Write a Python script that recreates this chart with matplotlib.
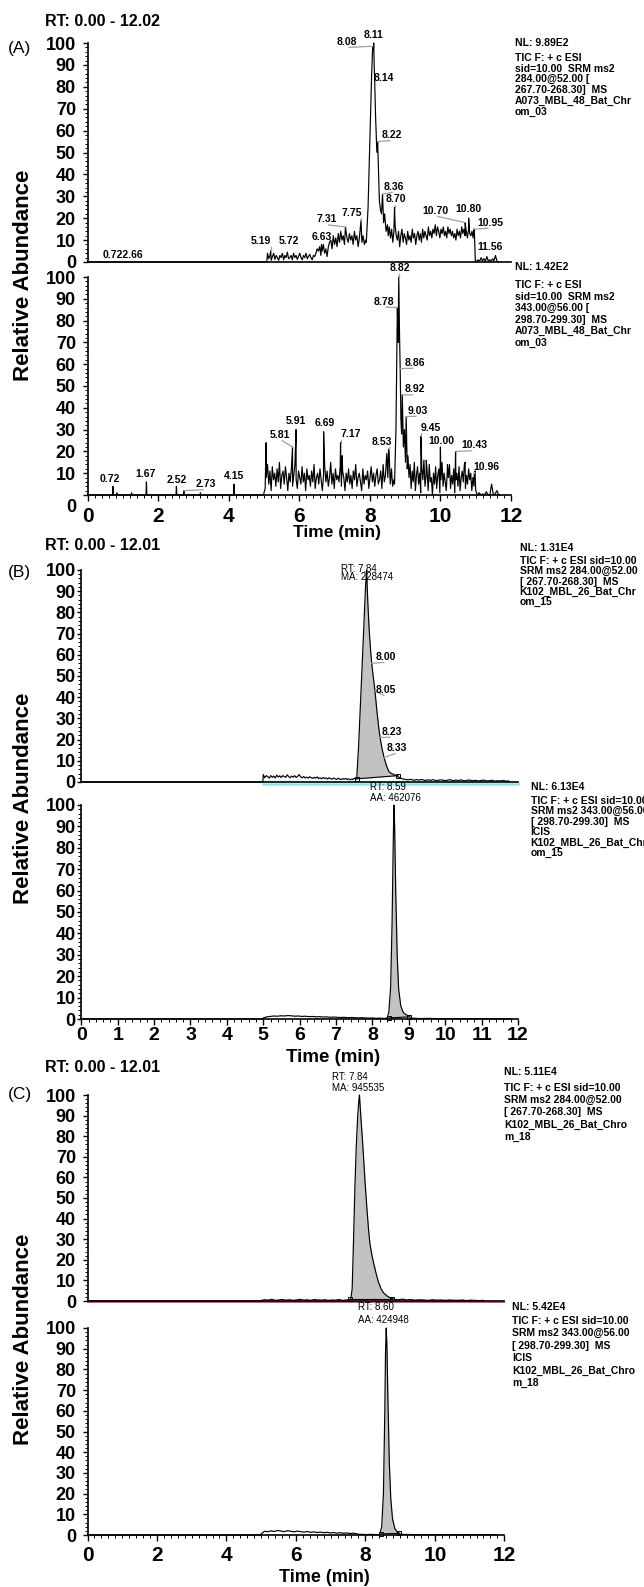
import numpy as np
import matplotlib
matplotlib.use("Agg")
import matplotlib.pyplot as plt
from matplotlib.ticker import MultipleLocator

plt.rcParams['font.family'] = ['Liberation Sans', 'DejaVu Sans']

# ===================== DATA =====================
# ---- Panel A, upper trace (284 -> 268) ----
a1_base_t = [0.0, 5.08]
a1_base_v = [0, 0]
a1_pre_range = (5.10, 7.88)
a1_pre_v = [4, 1.5, 3, 0.8, 2.5, 4, 1.2, 3, 2, 0.8,
            3, 2, 4, 1, 3, 2, 4.5, 1.5, 2, 3,
            1, 4, 2, 3, 1.2, 2.5, 4, 2, 1, 3,
            2, 4, 1.5, 2.5, 3.5, 2, 1, 3, 2.5, 4,
            6, 5, 7, 3, 5, 8, 4, 6, 2.5, 7,
            9, 10, 6, 12, 8, 11, 7, 13, 9, 14,
            10, 12, 8, 15, 11, 9, 13, 10, 12, 8,
            14, 10, 12, 7, 11, 17, 9, 12, 8, 10]
a1_peak_t = [7.90, 7.95, 8.00, 8.05, 8.08, 8.10, 8.11, 8.12, 8.14, 8.16, 8.19,
             8.21, 8.22, 8.24, 8.27, 8.30, 8.33, 8.36, 8.39, 8.42, 8.46, 8.50]
a1_peak_v = [9, 25, 55, 85, 98, 97, 100, 92, 81, 68, 54,
             50, 55, 45, 28, 24, 22, 31, 18, 22, 14, 17]
a1_post_range = (8.52, 10.96)
a1_post_v = [12, 16, 11, 15, 9, 14, 17, 12, 10, 14,
             7, 12, 15, 9, 13, 11, 8, 14, 10, 12,
             9, 15, 11, 13, 8, 12, 14, 10, 13, 9,
             15, 11, 14, 12, 10, 16, 12, 14, 11, 15,
             13, 17, 12, 16, 14, 11, 15, 13, 16, 12,
             14, 11, 16, 13, 15, 12, 14, 11, 13, 10,
             15, 12, 14, 11, 16, 13, 15, 12, 14, 11,
             15, 13, 12, 14, 11, 15]
a1_tail_range = (10.99, 11.64)
a1_tail_v = [0, 0.5, 1, 0.3, 2, 0.5, 1.5, 0.3, 2.5, 0.5, 1, 0.3, 1.5, 0.5, 3, 0.5, 0]
a1_spikes = [(5.19, 5), (6.63, 8), (7.31, 16), (7.75, 19), (8.70, 25),
             (10.70, 18), (10.80, 20), (10.95, 15), (11.56, 3)]

# ---- Panel A, lower trace (343 -> 299) ----
a2_base_t = [0.0, 4.99]
a2_base_v = [0, 0]
a2_isolated = [(0.72, 4), (0.83, 1), (1.25, 1), (1.67, 6), (2.52, 4),
               (2.73, 2), (3.20, 1), (4.15, 5)]
a2_noise1_range = (5.00, 8.68)
a2_noise1_v = [1, 3, 8, 14, 5, 11, 2, 13, 7, 10, 4, 12, 6, 15, 3, 9, 11, 5, 13, 8,
               2, 10, 6, 12, 4, 9, 14, 7, 3, 11, 8, 5, 13, 6, 10, 2, 12, 7, 9, 4,
               11, 6, 14, 3, 8, 10, 5, 12, 7, 2, 9, 13, 6, 11, 4, 8, 15, 5, 10, 3,
               12, 7, 9, 6, 13, 4, 11, 8, 2, 10, 6, 12, 5, 9, 3, 11, 7, 14, 4, 8,
               10, 6, 2, 12, 5, 9, 7, 11, 3, 8, 13, 6, 10, 4, 9, 12, 5, 7, 11, 3,
               14, 6, 9, 18, 8, 20, 5, 12, 4, 7]
a2_noise1_spikes = [(5.06, 24), (5.81, 22), (5.91, 30), (6.69, 29), (7.17, 24),
                    (7.22, 18), (8.48, 19), (8.53, 21)]
a2_peak_t = [8.70, 8.74, 8.76, 8.78, 8.80, 8.82, 8.84, 8.86, 8.88, 8.90, 8.92,
             8.95, 8.98, 9.01, 9.03, 9.06]
a2_peak_v = [5, 30, 60, 86, 70, 100, 75, 58, 35, 28, 46, 22, 30, 15, 36, 12]
a2_noise2_range = (9.08, 10.98)
a2_noise2_v = [18, 8, 14, 3, 11, 6, 15, 2, 9, 13, 5, 10, 1, 12, 7, 16, 4, 9, 11, 2,
               14, 6, 8, 0, 10, 5, 13, 3, 9, 12, 1, 7, 15, 4, 10, 6, 2, 11, 8, 14,
               3, 9, 5, 12, 1, 7, 10, 4, 13, 2, 8, 11, 6, 14, 3, 9, 5, 12, 7, 10,
               2, 8, 4, 11]
a2_noise2_spikes = [(9.45, 27), (9.60, 16), (10.00, 22), (10.20, 14), (10.43, 20),
                    (10.70, 15), (10.96, 10)]
a2_tail_range = (11.00, 11.70)
a2_tail_v = [2, 0, 1, 0, 0.5, 0, 1.5, 0, 0, 5, 0, 0.5, 2, 0, 0]

# ---- Panel B, upper trace ----
b1_base_t = [0.0, 4.99]
b1_base_v = [0, 0]
b1_pre_range = (5.00, 7.55)
b1_pre_v = [3.5, 2, 3, 2.5, 1.8, 3, 2.2, 2.8, 1.9, 3.2, 2.4, 2.9, 2.1, 3, 2.6, 2.2,
            3.4, 2.5, 2, 2.8, 2.3, 3, 2.1, 2.7, 3.5, 2.4, 2, 2.6, 1.9, 2.3, 1.8, 2.5,
            2, 1.7, 2.2, 1.8, 2.4, 1.6, 2, 1.5, 2.1, 1.7, 1.9, 1.4, 2, 1.6, 1.3, 1.9,
            1.5, 1.2, 1.8, 1.4, 1.1, 1.6, 1.3, 1.7, 1.2, 1.5, 1.0, 1.4, 1.2, 1.8, 1.3]
b1_peak_t = [7.57, 7.62, 7.67, 7.72, 7.77, 7.81, 7.84, 7.87, 7.91, 7.95, 7.98, 8.02,
             8.07, 8.12, 8.17, 8.21, 8.26, 8.32, 8.38, 8.45, 8.52, 8.60, 8.70]
b1_peak_v = [2, 17, 36, 56, 76, 92, 100, 86, 72, 62, 56, 50,
             43, 34, 26, 21, 16, 11.5, 8, 5, 4, 3.5, 2.5]
b1_post_range = (8.75, 11.75)
b1_post_v = [2, 1.5, 1.2, 1, 1.3, 0.8, 1.1, 0.9, 1.2, 0.7, 1, 0.8, 1.1, 0.6, 0.9, 1,
             0.7, 0.8, 1.1, 0.6, 0.9, 0.7, 1, 0.5, 0.8, 0.9, 0.6, 0.8, 0.5, 0.7, 0.9,
             0.5, 0.6, 0.8, 0.4, 0.6, 0.5, 0.7, 0.4, 0.5]
b1_area = (7.57, 8.70, 1.5, 3.0)

# ---- Panel B, lower trace ----
b2_base_t = [0.0, 4.99]
b2_base_v = [0, 0]
b2_hump_range = (5.00, 8.38)
b2_hump_v = [0.5, 1.0, 1.2, 1.4, 1.3, 1.5, 1.4, 1.6, 1.5, 1.3, 1.4, 1.2, 1.3, 1.1,
             1.2, 1.0, 1.1, 0.9, 1.0, 0.8, 0.9, 0.8, 0.7, 0.8, 0.6, 0.7, 0.6, 0.5,
             0.6, 0.5, 0.4, 0.5, 0.3, 0.4, 0.3, 0.3]
b2_peak_t = [8.40, 8.45, 8.50, 8.54, 8.57, 8.59, 8.61, 8.64, 8.68, 8.72, 8.78,
             8.85, 8.92, 9.00, 9.05]
b2_peak_v = [0.5, 3, 15, 45, 80, 100, 90, 60, 30, 14, 6, 3, 2, 1.5, 0.5]
b2_post_range = (9.08, 11.80)
b2_post_v = [0.4, 0.2, 0.3, 0.1, 0.2, 0.1, 0.15, 0.1, 0.2, 0.05, 0.1, 0.05]
b2_area = (8.45, 9.00, 0.5, 1.0)

# ---- Panel C, upper trace ----
c1_base_t = [0.0, 4.99]
c1_base_v = [0, 0]
c1_pre_range = (5.00, 7.55)
c1_pre_v = [0.3, 0.6, 0.4, 0.8, 0.3, 0.5, 0.7, 0.4, 0.6, 0.3, 0.5, 0.8, 0.4,
            0.6, 0.3, 0.7, 0.5, 0.4, 0.6, 0.3, 0.5, 0.4, 0.7, 0.3, 0.5, 0.6]
c1_peak_t = [7.58, 7.62, 7.66, 7.70, 7.74, 7.78, 7.81, 7.83, 7.86, 7.90, 7.94,
             7.99, 8.04, 8.09, 8.13, 8.18, 8.23, 8.30, 8.37, 8.45, 8.52, 8.62,
             8.72, 8.80]
c1_peak_v = [1, 6, 30, 56, 76, 90, 97, 100, 92, 82, 72, 58, 46, 35, 28, 23, 19,
             14, 9.5, 6, 4, 2.5, 1.5, 1]
c1_post_range = (8.82, 11.40)
c1_post_v = [0.8, 0.6, 0.9, 0.5, 0.7, 0.4, 0.6, 0.5, 0.3, 0.6, 0.4, 0.5, 0.3,
             0.5, 0.4, 0.3, 0.5, 0.2, 0.4, 0.3, 0.2, 0.3]
c1_area = (7.57, 8.77, 0.8, 0.8)

# ---- Panel C, lower trace ----
c2_base_t = [0.0, 4.99]
c2_base_v = [0, 0]
c2_hump_range = (5.00, 7.75)
c2_hump_v = [0.5, 1.8, 1.6, 2.0, 1.7, 2.2, 1.9, 1.6, 2.1, 1.8, 1.5, 1.9, 1.6,
             1.4, 1.7, 1.3, 1.5, 1.2, 1.4, 1.1, 1.3, 1.0, 1.2, 0.9, 1.1, 0.8,
             1.0, 0.7, 0.9, 0.6]
c2_gap_range = (7.78, 8.40)
c2_gap_v = [0.4, 0.3, 0.2, 0.3, 0.2, 0.1]
c2_peak_t = [8.42, 8.47, 8.52, 8.56, 8.58, 8.60, 8.62, 8.65, 8.69, 8.73, 8.78,
             8.85, 8.92, 9.00]
c2_peak_v = [0.5, 4, 20, 60, 88, 100, 92, 65, 35, 18, 8, 3, 1.5, 0.5]
c2_post_range = (9.02, 11.80)
c2_post_v = [0.3, 0.2, 0.1, 0.15, 0.1, 0.05, 0.1, 0.05]
c2_area = (8.45, 8.97, 0.5, 0.8)

# ---- text content ----
y_ticks = list(range(0, 101, 10))
y_ticklabels = [str(v) for v in y_ticks]
xticks_a = [0, 2, 4, 6, 8, 10, 12]
xticks_b = list(range(0, 13))
xticks_c = [0, 2, 4, 6, 8, 10, 12]

info_a1 = ["NL: 9.89E2", "TIC F: + c ESI", "sid=10.00  SRM ms2", "284.00@52.00 [",
           "267.70-268.30]  MS", "A073_MBL_48_Bat_Chr", "om_03"]
info_a2 = ["NL: 1.42E2", "TIC F: + c ESI", "sid=10.00  SRM ms2", "343.00@56.00 [",
           "298.70-299.30]  MS", "A073_MBL_48_Bat_Chr", "om_03"]
info_b1 = ["NL: 1.31E4", "TIC F: + c ESI sid=10.00", "SRM ms2 284.00@52.00",
           "[ 267.70-268.30]  MS", "K102_MBL_26_Bat_Chr", "om_15"]
info_b2 = ["NL: 6.13E4", "TIC F: + c ESI sid=10.00", "SRM ms2 343.00@56.00",
           "[ 298.70-299.30]  MS", "ICIS", "K102_MBL_26_Bat_Chr", "om_15"]
info_c1 = ["NL: 5.11E4", "TIC F: + c ESI sid=10.00", "SRM ms2 284.00@52.00",
           "[ 267.70-268.30]  MS", "K102_MBL_26_Bat_Chro", "m_18"]
info_c2 = ["NL: 5.42E4", "TIC F: + c ESI sid=10.00", "SRM ms2 343.00@56.00",
           "[ 298.70-299.30]  MS", "ICIS", "K102_MBL_26_Bat_Chro", "m_18"]

area_b1 = ["RT: 7.84", "MA: 228474"]
area_b2 = ["RT: 8.59", "AA: 462076"]
area_c1 = ["RT: 7.84", "MA: 945535"]
area_c2 = ["RT: 8.60", "AA: 424948"]

# peak labels: text, label x, label y, peak x, peak y (None = no leader)
labels_a1 = [("8.08", 7.35, 100.6, 8.08, 98.5), ("8.11", 8.11, 103.7, None, None),
             ("8.14", 8.40, 83.9, 8.14, 81), ("8.22", 8.63, 58.0, 8.22, 55),
             ("8.36", 8.69, 34.4, 8.36, 31), ("8.70", 8.75, 28.6, 8.70, 25),
             ("7.31", 6.77, 19.5, 7.31, 16), ("7.75", 7.49, 22.5, 7.75, 19),
             ("6.63", 6.65, 11.3, None, None), ("5.19", 4.91, 9.6, 5.19, 5),
             ("5.72", 5.72, 9.6, None, None), ("10.70", 9.85, 23.4, 10.70, 18),
             ("10.80", 10.78, 24.0, None, None), ("10.95", 11.42, 18.0, 10.95, 15),
             ("11.56", 11.42, 6.7, None, None), ("0.722.66", 1.01, 3.2, None, None)]
labels_a2 = [("8.82", 8.86, 104.0, 8.82, 100), ("8.78", 8.40, 88.7, 8.78, 86),
             ("8.86", 9.27, 60.7, 8.86, 58), ("8.92", 9.27, 48.5, 8.92, 46),
             ("9.03", 9.36, 38.7, 9.03, 36), ("9.45", 9.74, 30.9, 9.45, 27),
             ("10.00", 10.03, 24.9, None, None), ("10.43", 10.96, 22.9, 10.43, 20),
             ("10.96", 11.31, 13.0, 10.96, 10), ("5.81", 5.46, 27.5, 5.81, 22),
             ("5.91", 5.90, 34.0, None, None), ("6.69", 6.71, 32.9, None, None),
             ("7.17", 7.47, 28.0, 7.17, 24), ("8.53", 8.34, 24.5, 8.53, 21),
             ("0.72", 0.64, 7.2, None, None), ("1.67", 1.65, 9.5, None, None),
             ("2.52", 2.52, 6.9, None, None), ("2.73", 3.34, 5.0, 2.73, 2),
             ("4.15", 4.15, 8.7, None, None)]
labels_b1 = [("8.00", 8.37, 59.0, 7.98, 56), ("8.05", 8.37, 43.4, 8.07, 43),
             ("8.23", 8.54, 23.7, 8.21, 21), ("8.33", 8.68, 16.0, 8.32, 11.5)]

# ===================== DRAWING =====================
W, H = 644, 1587
fig = plt.figure(figsize=(W / 100, H / 100), dpi=100)
PT = 0.72  # points per pixel


def build(parts, spikes=(), isolated=()):
    t, v = [], []
    for kind, a, b in parts:
        if kind == 'grid':
            t += list(np.linspace(a[0], a[1], len(b)))
            v += list(b)
        else:
            t += list(a)
            v += list(b)
    for st, sv in spikes:
        t.append(st); v.append(sv)
    for st, sv in isolated:
        t += [st - 0.012, st, st + 0.012]
        v += [0, sv, 0]
    t = np.asarray(t, float); v = np.asarray(v, float)
    o = np.argsort(t, kind='stable')
    return t[o], v[o]


def fig_text(x, y, s, **kw):
    return fig.text(x / W, 1 - y / H, s, **kw)


def make_axes(left, right, top, bottom, xticks=None, ypad_px=6.5, ytick_len_px=5,
              xtick_fs=15, xpad_px=5):
    ax = fig.add_axes([left / W, 1 - bottom / H, (right - left) / W, (bottom - top) / H])
    ax.set_xlim(0, 12)
    ax.set_ylim(0, 100)
    ax.patch.set_alpha(0)
    for s in ('top', 'right'):
        ax.spines[s].set_visible(False)
    for s in ('left', 'bottom'):
        ax.spines[s].set_linewidth(1.2)
    ax.set_yticks(y_ticks)
    ax.set_yticklabels(y_ticklabels, fontsize=13, fontweight='bold')
    ax.yaxis.set_minor_locator(MultipleLocator(2))
    ax.tick_params(axis='y', which='major', direction='out', length=ytick_len_px * PT,
                   width=1.0, pad=ypad_px * PT)
    ax.tick_params(axis='y', which='minor', direction='out', length=3 * PT, width=0.7)
    if xticks is None:
        ax.set_xticks([])
        ax.tick_params(axis='x', which='both', bottom=False, labelbottom=False)
    else:
        ax.set_xticks(xticks)
        ax.set_xticklabels([str(v) for v in xticks], fontsize=xtick_fs, fontweight='bold')
        ax.xaxis.set_minor_locator(MultipleLocator(0.2))
        ax.tick_params(axis='x', which='major', direction='out', length=6 * PT,
                       width=1.0, pad=xpad_px * PT)
        ax.tick_params(axis='x', which='minor', direction='out', length=3 * PT, width=0.7)
    return ax


def trace(ax, t, v):
    ax.plot(t, v, color='black', lw=0.85, clip_on=False, zorder=3)


def area(ax, t, v, spec):
    x0, x1, b0, b1 = spec
    m = (t >= x0) & (t <= x1)
    tt = t[m]; vv = v[m]
    base = np.interp(tt, [x0, x1], [b0, b1])
    ax.fill_between(tt, base, np.maximum(vv, base), color='#c2c2c2', lw=0, zorder=2,
                    clip_on=False)
    ax.plot([x0, x1], [b0, b1], color='black', lw=0.8, zorder=3, clip_on=False)
    ax.plot([x0, x1], [b0, b1], ls='none', marker='s', ms=3, mfc='none', mec='black',
            mew=0.7, zorder=4, clip_on=False)


def peak_labels(ax, labels, hw_per_char, fs=7.5):
    for txt, lx, ly, px, py in labels:
        ax.text(lx, ly, txt, fontsize=fs, fontweight='bold', ha='center', va='center',
                zorder=5)
        if px is not None:
            hw = hw_per_char * len(txt)
            ey = ly - 2.6
            if px < lx - hw:
                ex = lx - 0.2 * hw
            elif px > lx + hw:
                ex = lx + 0.2 * hw
            else:
                ex = px
            ax.plot([px, ex], [py, ey], color='#a0a0a0', lw=0.9, zorder=4, clip_on=False)


def info(x, y_nl, y_first, step, lines, fs=7.5):
    fig_text(x, y_nl, lines[0], fontsize=fs, fontweight='bold', ha='left', va='center')
    for i, s in enumerate(lines[1:]):
        fig_text(x, y_first + i * step, s, fontsize=fs, fontweight='bold', ha='left',
                 va='center')


def area_text(ax, x, y1, y2, lines, fs=7):
    ax.text(x, y1, lines[0], fontsize=fs, ha='left', va='center', zorder=5)
    ax.text(x, y2, lines[1], fontsize=fs, ha='left', va='center', zorder=5)


# ---------------- Panel A ----------------
axA1 = make_axes(87.5, 511, 43, 262)
t, v = build([('pts', a1_base_t, a1_base_v), ('grid', a1_pre_range, a1_pre_v),
              ('pts', a1_peak_t, a1_peak_v), ('grid', a1_post_range, a1_post_v),
              ('grid', a1_tail_range, a1_tail_v)], spikes=a1_spikes)
trace(axA1, t, v)
peak_labels(axA1, labels_a1, 0.075)

axA2 = make_axes(87.5, 511, 277, 495, xticks=xticks_a, xtick_fs=15, xpad_px=6)
t, v = build([('pts', a2_base_t, a2_base_v), ('grid', a2_noise1_range, a2_noise1_v),
              ('pts', a2_peak_t, a2_peak_v), ('grid', a2_noise2_range, a2_noise2_v),
              ('grid', a2_tail_range, a2_tail_v)],
             spikes=a2_noise1_spikes + a2_noise2_spikes, isolated=a2_isolated)
trace(axA2, t, v)
peak_labels(axA2, labels_a2, 0.075)
lbls = axA2.get_yticklabels()
lbls[0].set_visible(False)
fig_text(76, 507, "0", fontsize=13, fontweight='bold', ha='right', va='center')

fig_text(45, 21, "RT: 0.00 - 12.02", fontsize=11.5, fontweight='bold', ha='left', va='center')
fig_text(19.5, 48, "(A)", fontsize=12.5, ha='center', va='center')
fig_text(24, 275, "Relative Abundance", fontsize=16, fontweight='bold', rotation=90,
         ha='center', va='center')
fig_text(337.5, 533, "Time (min)", fontsize=12.5, fontweight='bold', ha='center', va='center')
info(515, 43, 58, 10.7, info_a1)
info(515, 267, 285, 11.6, info_a2)

# ---------------- Panel B ----------------
axB1 = make_axes(81.3, 518, 570, 782, ypad_px=1.5, ytick_len_px=4)
t, v = build([('pts', b1_base_t, b1_base_v), ('grid', b1_pre_range, b1_pre_v),
              ('pts', b1_peak_t, b1_peak_v), ('grid', b1_post_range, b1_post_v)])
axB1.plot([5.0, 12.0], [-0.9, -0.9], color='#8fe6f4', lw=1.8, clip_on=False, zorder=2)
area(axB1, t, v, b1_area)
trace(axB1, t, v)
peak_labels(axB1, labels_b1, 0.07)
area_text(axB1, 7.13, 100.3, 96.5, area_b1, fs=7)

axB2 = make_axes(81.3, 518, 805, 1019, xticks=xticks_b, ypad_px=1.5, ytick_len_px=4,
                 xtick_fs=14, xpad_px=2.5)
t, v = build([('pts', b2_base_t, b2_base_v), ('grid', b2_hump_range, b2_hump_v),
              ('pts', b2_peak_t, b2_peak_v), ('grid', b2_post_range, b2_post_v)])
area(axB2, t, v, b2_area)
trace(axB2, t, v)
area_text(axB2, 7.92, 108.4, 103.3, area_b2, fs=7)

fig_text(45, 545, "RT: 0.00 - 12.01", fontsize=11.5, fontweight='bold', ha='left', va='center')
fig_text(19.5, 572, "(B)", fontsize=12.5, ha='center', va='center')
fig_text(24, 798, "Relative Abundance", fontsize=16, fontweight='bold', rotation=90,
         ha='center', va='center')
fig_text(333, 1057, "Time (min)", fontsize=13.5, fontweight='bold', ha='center', va='center')
info(519.5, 548, 561, 10.3, info_b1)
info(530.6, 787, 801, 10.4, info_b2)

# ---------------- Panel C ----------------
axC1 = make_axes(87.5, 504.3, 1095, 1301)
t, v = build([('pts', c1_base_t, c1_base_v), ('grid', c1_pre_range, c1_pre_v),
              ('pts', c1_peak_t, c1_peak_v), ('grid', c1_post_range, c1_post_v)])
axC1.plot([0.0, 12.0], [-0.7, -0.7], color='#e0566a', lw=1.5, clip_on=False, zorder=2)
area(axC1, t, v, c1_area)
trace(axC1, t, v)
area_text(axC1, 7.03, 108.9, 103.2, area_c1, fs=7)

axC2 = make_axes(87.5, 504.3, 1328, 1535, xticks=xticks_c, xtick_fs=15, xpad_px=5)
t, v = build([('pts', c2_base_t, c2_base_v), ('grid', c2_hump_range, c2_hump_v),
              ('grid', c2_gap_range, c2_gap_v), ('pts', c2_peak_t, c2_peak_v),
              ('grid', c2_post_range, c2_post_v)])
area(axC2, t, v, c2_area)
trace(axC2, t, v)
area_text(axC2, 7.80, 110.0, 103.9, area_c2, fs=7)

fig_text(45, 1067, "RT: 0.00 - 12.01", fontsize=11.5, fontweight='bold', ha='left', va='center')
fig_text(19.5, 1095, "(C)", fontsize=12.5, ha='center', va='center')
fig_text(24, 1339, "Relative Abundance", fontsize=16, fontweight='bold', rotation=90,
         ha='center', va='center')
fig_text(324, 1577, "Time (min)", fontsize=13, fontweight='bold', ha='center', va='center')
info(504, 1072, 1088, 12.2, info_c1)
info(512.5, 1307, 1321, 12.4, info_c2)

fig.savefig("out.png", dpi=100, facecolor='white')
